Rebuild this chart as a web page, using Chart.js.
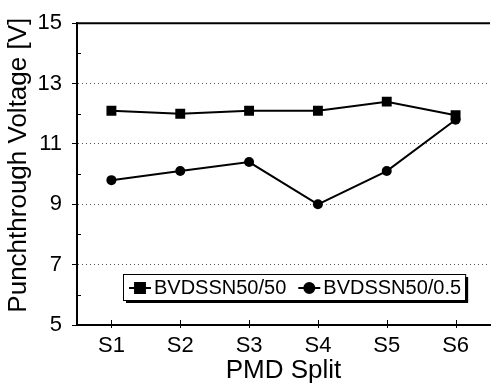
<!DOCTYPE html>
<html>
<head>
<meta charset="utf-8">
<script src="https://cdn.jsdelivr.net/npm/chart.js@4"></script>
<style>
    html, body { margin: 0; padding: 0; background: #fff; }
    #wrap { width: 497px; height: 389px; }
</style>
</head>
<body>
<div id="wrap"><canvas id="grafico"></canvas></div>
<script>
// dados
const splits = ['S1', 'S2', 'S3', 'S4', 'S5', 'S6'];
const bvdss50_50 = [12.1, 12.0, 12.1, 12.1, 12.4, 11.95];
const bvdss50_05 = [9.8, 10.1, 10.4, 9.0, 10.1, 11.8];
const yTicks = [5, 7, 9, 11, 13, 15];
const yMinor = [6, 8, 10, 12, 14];
const tituloY = 'Punchthrough Voltage [V]';

const FONTE = "'Liberation Sans', Arial, sans-serif";

/* ===== plugin: moldura, ticks internos, título y e legenda ===== */
const extras = {
    id: 'extras',
    afterDraw(chart) {
        const ctx = chart.ctx;
        const a = chart.chartArea;
        const x = chart.scales.x;
        const y = chart.scales.y;
        ctx.save();
        ctx.strokeStyle = '#000';

        // linha superior
        ctx.lineWidth = 2;
        ctx.beginPath();
        ctx.moveTo(a.left, a.top);
        ctx.lineTo(a.right, a.top);
        ctx.stroke();

        // ticks menores no eixo y
        ctx.lineWidth = 1;
        yMinor.forEach(v => {
            const py = Math.round(y.getPixelForValue(v)) + 0.5;
            ctx.beginPath();
            ctx.moveTo(a.left, py);
            ctx.lineTo(a.left + 4, py);
            ctx.stroke();
        });

        // ticks do eixo x
        splits.forEach((s, i) => {
            const px = Math.round(x.getPixelForValue(i)) + 0.5;
            ctx.beginPath();
            ctx.moveTo(px, a.bottom - 5);
            ctx.lineTo(px, a.bottom + 3);
            ctx.stroke();
        });

        // título do eixo y (acima do centro, como no original)
        ctx.save();
        ctx.fillStyle = '#000';
        ctx.font = '26px ' + FONTE;
        ctx.translate(19, a.top + 142);
        ctx.rotate(-Math.PI / 2);
        ctx.textAlign = 'center';
        ctx.textBaseline = 'middle';
        ctx.fillText(tituloY, 0, 0);
        ctx.restore();

        // legenda
        ctx.font = '20px ' + FONTE;
        const itens = chart.data.datasets;
        let largura = 6;
        itens.forEach(d => { largura += 25 + ctx.measureText(d.label).width + 12; });
        largura -= 8;
        const bx = a.left + 46, by = a.bottom - 51, bh = 26;

        ctx.fillStyle = '#000';
        ctx.fillRect(bx + 3, by + 3, largura, bh);
        ctx.fillStyle = '#fff';
        ctx.fillRect(bx, by, largura, bh);
        ctx.strokeRect(bx + 0.5, by + 0.5, largura, bh);

        let cx = bx + 6;
        const cy = by + bh / 2 + 1;
        itens.forEach(d => {
            ctx.lineWidth = 2;
            ctx.beginPath();
            ctx.moveTo(cx, cy);
            ctx.lineTo(cx + 22, cy);
            ctx.stroke();
            Chart.helpers.drawPoint(ctx, {
                pointStyle: d.pointStyle, radius: d.pointRadius, rotation: 0, borderWidth: 1
            }, cx + 11, cy);
            ctx.fillStyle = '#000';
            ctx.fill();
            ctx.textBaseline = 'middle';
            ctx.fillText(d.label, cx + 25, cy);
            cx += 25 + ctx.measureText(d.label).width + 12;
        });
        ctx.restore();
    }
};

new Chart(document.getElementById('grafico'), {
    type: 'line',
    data: {
        labels: splits,
        datasets: [
            {
                label: 'BVDSSN50/50',
                data: bvdss50_50,
                borderColor: '#000',
                backgroundColor: '#000',
                borderWidth: 2,
                pointStyle: 'rect',
                pointRadius: 7,
                pointBorderWidth: 0,
                tension: 0
            },
            {
                label: 'BVDSSN50/0.5',
                data: bvdss50_05,
                borderColor: '#000',
                backgroundColor: '#000',
                borderWidth: 2,
                pointStyle: 'circle',
                pointRadius: 5,
                pointBorderWidth: 0,
                tension: 0
            }
        ]
    },
    options: {
        responsive: true,
        maintainAspectRatio: false,
        animation: false,
        events: [],
        layout: { padding: { top: 12, right: 0, left: 0, bottom: 0 } },
        plugins: {
            legend: { display: false },
            tooltip: { enabled: false }
        },
        scales: {
            x: {
                offset: true,
                afterFit: s => { s.height = 64; },
                grid: { display: false },
                border: { color: '#000', width: 2 },
                ticks: { color: '#000', padding: 0, font: { family: FONTE, size: 22 } },
                title: {
                    display: true,
                    text: 'PMD Split',
                    color: '#000',
                    padding: { top: 0, bottom: 3 },
                    font: { family: FONTE, size: 26 }
                }
            },
            y: {
                min: 5,
                max: 15,
                afterFit: s => { s.width = 77; },
                afterBuildTicks: s => { s.ticks = yTicks.map(v => ({ value: v })); },
                grid: {
                    color: c => (c.tick.value === 5 || c.tick.value === 15) ? 'rgba(0,0,0,0)' : '#555',
                    tickColor: '#000',
                    tickLength: 5,
                    tickBorderDash: [],
                    lineWidth: 1
                },
                border: { color: '#000', width: 2, dash: [1, 3] },
                ticks: { color: '#000', padding: 10, font: { family: FONTE, size: 22 } }
            }
        }
    },
    plugins: [extras]
});
</script>
</body>
</html>
